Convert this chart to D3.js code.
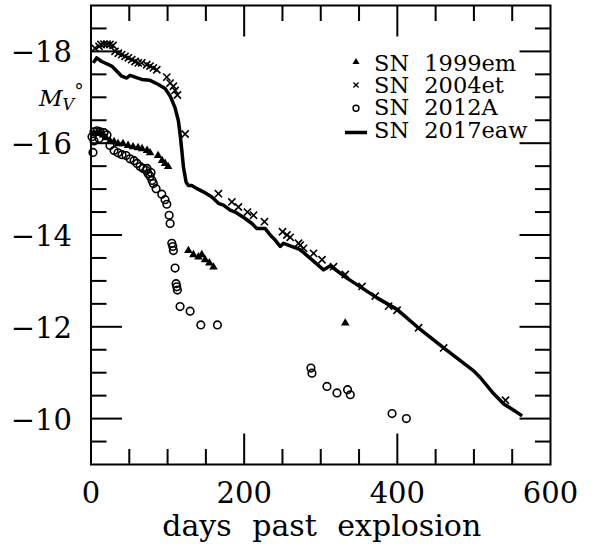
<!DOCTYPE html>
<html><head><meta charset="utf-8">
<script src="https://cdn.jsdelivr.net/npm/d3@7"></script>
<style>body{margin:0;background:#fff}svg{display:block}text{font-family:"DejaVu Serif",serif;fill:#000}</style>
</head><body><svg id="c" width="594" height="544"></svg>
<script>
// ---- data (days past explosion, absolute V magnitude) ----
const sn1999em_days = [3.9,7.8,11.8,15.7,19.6,24.8,30.1,35.3,41.8,48.4,54.9,61.4,66.7,73.2,77.1,87.6,92.8,96.7,100.7,127.2,133.7,140.3,144.7,149.0,154.6,159.9,332.0];
const sn1999em_mag  = [-16.21,-16.23,-16.25,-16.18,-16.12,-16.05,-16.03,-15.99,-15.99,-15.95,-15.92,-15.90,-15.88,-15.84,-15.79,-15.73,-15.62,-15.56,-15.49,-13.66,-13.57,-13.52,-13.57,-13.46,-13.39,-13.30,-12.08];

const sn2004et_days = [5.2,10.5,13.1,17.0,20.9,24.8,28.8,31.4,35.7,40.1,44.4,48.8,53.2,57.5,61.8,66.3,72.8,77.1,81.4,85.9,99.0,103.3,107.6,109.8,112.8,122.9,166.4,183.9,192.5,204.3,212.2,226.5,250.1,255.8,260.1,271.0,273.2,277.5,290.6,301.6,316.7,332.0,353.9,371.2,388.6,399.6,427.8,460.5,541.2];
const sn2004et_mag  = [-18.07,-18.11,-18.15,-18.16,-18.16,-18.15,-18.13,-18.00,-17.96,-17.93,-17.89,-17.86,-17.82,-17.78,-17.75,-17.75,-17.71,-17.68,-17.64,-17.60,-17.44,-17.31,-17.24,-17.15,-17.05,-16.20,-14.90,-14.72,-14.61,-14.50,-14.43,-14.29,-14.07,-14.00,-13.95,-13.82,-13.78,-13.71,-13.60,-13.46,-13.31,-13.14,-12.88,-12.67,-12.45,-12.36,-11.98,-11.54,-10.40];

const sn2012A_days = [1.3,2.6,3.9,3.9,7.8,10.5,11.8,17.0,20.9,24.8,30.1,35.3,40.5,45.8,51.0,56.2,60.1,64.1,68.0,71.9,73.2,74.5,77.1,78.4,79.7,81.4,85.0,92.4,96.7,99.0,102.0,103.3,105.5,106.8,107.6,109.8,111.1,112.0,112.8,116.3,129.4,143.4,165.1,287.2,288.5,308.1,321.2,335.0,338.6,393.1,411.8];
const sn2012A_mag  = [-16.14,-15.80,-16.25,-16.05,-16.27,-16.10,-16.25,-16.23,-16.18,-15.95,-15.84,-15.79,-15.75,-15.73,-15.66,-15.62,-15.56,-15.49,-15.45,-15.41,-15.45,-15.34,-15.28,-15.36,-15.19,-15.12,-15.01,-14.89,-14.77,-14.67,-14.43,-14.25,-13.82,-13.75,-13.66,-13.28,-12.94,-12.87,-12.80,-12.44,-12.34,-12.04,-12.04,-11.10,-10.99,-10.70,-10.56,-10.63,-10.52,-10.11,-10.00];

const sn2017eaw_days = [3.0,7.5,14.0,27.1,40.1,46.7,51.0,57.5,66.3,77.1,88.0,96.7,103.3,109.8,114.1,116.3,118.6,120.7,124.2,127.2,131.6,138.2,146.8,157.8,166.4,172.9,181.7,188.2,194.8,201.3,210.1,216.6,227.5,234.0,240.5,247.1,251.4,273.2,303.7,312.4,334.2,373.5,399.6,425.8,460.5,499.7,508.5,525.9,539.0,552.0,563.0];
const sn2017eaw_mag  = [-17.75,-17.86,-17.78,-17.68,-17.46,-17.42,-17.48,-17.44,-17.39,-17.37,-17.28,-17.19,-17.03,-16.77,-16.49,-16.20,-15.84,-15.48,-15.15,-15.08,-15.08,-15.01,-14.94,-14.83,-14.69,-14.65,-14.54,-14.50,-14.43,-14.36,-14.25,-14.14,-14.14,-14.00,-13.89,-13.75,-13.82,-13.68,-13.24,-13.33,-13.06,-12.63,-12.38,-12.00,-11.54,-11.04,-10.89,-10.54,-10.32,-10.18,-10.06];

const xTickLabels = [0, 200, 400, 600];
const yTickLabels = [-18, -16, -14, -12, -10];
const legendLabels = ["SN 1999em", "SN 2004et", "SN 2012A", "SN 2017eaw"];

// ---- layout ----
const L = 91, R = 550.5, T = 5.5, B = 464.5;
const svg = d3.select("#c");
const x = d3.scaleLinear().domain([0, 600]).range([L, R]);
const y = d3.scaleLinear().domain([-9, -19]).range([B, T]);

const g = svg.append("g");
// frame
g.append("rect").attr("x", L).attr("y", T).attr("width", R - L).attr("height", B - T)
  .attr("fill", "none").attr("stroke", "#000").attr("stroke-width", 2);

// ticks (all four sides, inward)
const xt = d3.range(0, 601, 50);
const yt = d3.range(-19, -8.99, 0.5);
const tk = g.append("g").attr("stroke", "#000").attr("stroke-width", 2);
xt.forEach(v => {
  const len = (v % 200 === 0) ? 31 : 15.5;
  if (v === 0 || v === 600) return;
  tk.append("line").attr("x1", x(v)).attr("x2", x(v)).attr("y1", B).attr("y2", B - len);
  tk.append("line").attr("x1", x(v)).attr("x2", x(v)).attr("y1", T).attr("y2", T + len);
});
yt.forEach(v => {
  const len = (Math.abs(v) % 2 === 0) ? 31 : 15.5;
  if (v === -19 || v === -9) return;
  tk.append("line").attr("y1", y(v)).attr("y2", y(v)).attr("x1", L).attr("x2", L + len);
  tk.append("line").attr("y1", y(v)).attr("y2", y(v)).attr("x1", R).attr("x2", R - len);
});

// tick labels
g.selectAll(".xl").data(xTickLabels).enter().append("text")
  .attr("x", d => x(d)).attr("y", 503).attr("text-anchor", "middle")
  .attr("font-size", 29).text(d => d);
g.selectAll(".yl").data(yTickLabels).enter().append("text")
  .attr("x", 72).attr("y", d => y(d) + 11).attr("text-anchor", "end")
  .attr("font-size", 29).text(d => "\u2212" + Math.abs(d));

// axis titles
g.append("text").attr("x", (L + R) / 2 + 1).attr("y", 536).attr("text-anchor", "middle")
  .attr("font-size", 30).attr("word-spacing", 11).text("days past explosion");
const yl = g.append("text").attr("x", 39).attr("y", 106).attr("font-size", 23);
yl.append("tspan").attr("font-style", "italic").text("M");
yl.append("tspan").attr("font-style", "italic").attr("font-size", 16).attr("dy", 4).text("V");
yl.append("tspan").attr("font-size", 19).attr("dx", 0).attr("dy", -13).text("\u00b0");

// data
const line = d3.line().x(d => x(d[0])).y(d => y(d[1]));
g.append("path").datum(d3.zip(sn2017eaw_days, sn2017eaw_mag))
  .attr("d", line).attr("fill", "none").attr("stroke", "#000")
  .attr("stroke-width", 3.5).attr("stroke-linejoin", "round");

const tri = d3.symbol().type(d3.symbolTriangle).size(32);
g.selectAll(".t").data(d3.zip(sn1999em_days, sn1999em_mag)).enter().append("path")
  .attr("d", tri).attr("transform", d => `translate(${x(d[0])},${y(d[1])})`).attr("fill", "#000");

const cross = s => `M${-s},${-s}L${s},${s}M${-s},${s}L${s},${-s}`;
g.selectAll(".x").data(d3.zip(sn2004et_days, sn2004et_mag)).enter().append("path")
  .attr("d", cross(3.6)).attr("transform", d => `translate(${x(d[0])},${y(d[1])})`)
  .attr("stroke", "#000").attr("stroke-width", 1.6).attr("fill", "none");

g.selectAll(".o").data(d3.zip(sn2012A_days, sn2012A_mag)).enter().append("circle")
  .attr("cx", d => x(d[0])).attr("cy", d => y(d[1])).attr("r", 3.8)
  .attr("fill", "none").attr("stroke", "#000").attr("stroke-width", 1.6);

// legend
const lg = g.append("g");
const base = [71, 93.2, 115.4, 137.6];
legendLabels.forEach((t, i) => {
  lg.append("text").attr("x", 374).attr("y", base[i]).attr("font-size", 22.5)
    .attr("word-spacing", 8).text(t);
});
lg.append("path").attr("d", d3.symbol().type(d3.symbolTriangle).size(22)).attr("transform", "translate(356,62)");
lg.append("path").attr("d", cross(2.6)).attr("transform", "translate(356,85)").attr("stroke", "#000").attr("stroke-width", 1.4);
lg.append("circle").attr("cx", 356).attr("cy", 108.3).attr("r", 3).attr("fill", "none").attr("stroke", "#000").attr("stroke-width", 1.4);
lg.append("line").attr("x1", 345).attr("x2", 367).attr("y1", 132.5).attr("y2", 132.5).attr("stroke", "#000").attr("stroke-width", 3.5);
</script></body></html>
